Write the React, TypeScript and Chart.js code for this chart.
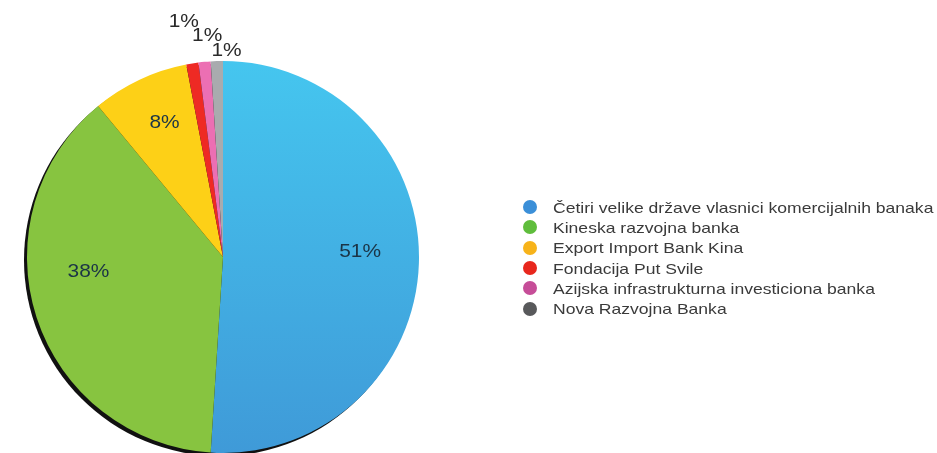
import React, { useEffect, useRef } from "react";
import { Chart, registerables } from "chart.js";

Chart.register(...registerables);

const categories = [
  "Četiri velike države vlasnici komercijalnih banaka",
  "Kineska razvojna banka",
  "Export Import Bank Kina",
  "Fondacija Put Svile",
  "Azijska infrastrukturna investiciona banka",
  "Nova Razvojna Banka",
];
const shares = [51, 38, 8, 1, 1, 1];
const percentLabels = ["51%", "38%", "8%", "1%", "1%", "1%"];
const sliceColors = ["#42b6e8", "#87c440", "#fdd017", "#ee2a24", "#ec6fb3", "#a9abae"];
const legendColors = ["#3b8fd8", "#5fbd3c", "#f7b31a", "#e8271d", "#c64d98", "#58595b"];
// extra outward distance for the tiny slices' labels (px)
const labelOutset = [0, 0, 0, 42, 26, 10];
const labelNudgeX = [0, -4, 0, -2, 5, 10];
const labelNudgeY = [-10, -28, -10, 0, 0, 0];

const shadowPlugin = {
  id: "pieShadow",
  beforeDatasetsDraw(chart: any) {
    const arc = chart.getDatasetMeta(0).data[0];
    if (!arc) return;
    const { x, y, outerRadius } = arc;
    const ctx = chart.ctx;
    ctx.save();
    ctx.beginPath();
    ctx.arc(x - 3, y + 3, outerRadius, 0, Math.PI * 2);
    ctx.fillStyle = "#111";
    ctx.fill();
    ctx.restore();
  },
};

const labelPlugin = {
  id: "pctLabels",
  afterDatasetsDraw(chart: any) {
    const ctx = chart.ctx;
    const meta = chart.getDatasetMeta(0);
    meta.data.forEach((arc: any, i: number) => {
      const mid = (arc.startAngle + arc.endAngle) / 2;
      const outside = labelOutset[i] > 0;
      const d = outside ? arc.outerRadius + labelOutset[i] : arc.outerRadius * 0.7;
      const lx = arc.x + Math.cos(mid) * d + labelNudgeX[i];
      const ly = arc.y + Math.sin(mid) * d + labelNudgeY[i];
      ctx.save();
      ctx.translate(lx, ly);
      ctx.scale(1.1, 1);
      ctx.font = "19px 'Liberation Sans', Arial, sans-serif";
      ctx.textAlign = "center";
      ctx.textBaseline = "middle";
      ctx.fillStyle = outside ? "#2a2a2a" : "#1b3446";
      ctx.fillText(percentLabels[i], 0, 0);
      ctx.restore();
    });
  },
};

export default function App() {
  const ref = useRef<HTMLCanvasElement>(null);
  useEffect(() => {
    if (!ref.current) return;
    const chart = new Chart(ref.current, {
      type: "pie",
      data: {
        labels: categories,
        datasets: [
          {
            data: shares,
            backgroundColor: (c: any) => {
              const i = c.dataIndex;
              if (i === 0) {
                const g = c.chart.ctx.createLinearGradient(0, 60, 0, 453);
                g.addColorStop(0, "#45c6ef");
                g.addColorStop(1, "#3f9ad8");
                return g;
              }
              return sliceColors[i];
            },
            borderWidth: 0,
          },
        ],
      },
      options: {
        animation: false,
        responsive: false,
        maintainAspectRatio: false,
        layout: { padding: { left: 27, right: 518, top: 61, bottom: 0 } },
        plugins: {
          legend: { display: false },
          tooltip: { enabled: false },
        },
      },
      plugins: [shadowPlugin, labelPlugin],
    });
    return () => chart.destroy();
  }, []);

  return (
    <div style={{ position: "fixed", left: 0, top: 0, width: 937, height: 453, background: "#fff" }}>
      <canvas ref={ref} width={937} height={453} style={{ position: "absolute", left: 0, top: 0 }} />
      <div
        style={{
          position: "absolute",
          left: 523,
          top: 197,
          fontFamily: "'Liberation Sans', Arial, sans-serif",
          fontSize: 15,
          color: "#3a3a3a",
        }}
      >
        {categories.map((c, i) => (
          <div key={c} style={{ display: "flex", alignItems: "center", height: 20.3, whiteSpace: "nowrap" }}>
            <span
              style={{
                display: "inline-block",
                width: 14,
                height: 14,
                borderRadius: "50%",
                background: legendColors[i],
                marginRight: 16,
              }}
            />
            <span style={{ display: "inline-block", transform: "scaleX(1.17)", transformOrigin: "left center" }}>{c}</span>
          </div>
        ))}
      </div>
    </div>
  );
}
